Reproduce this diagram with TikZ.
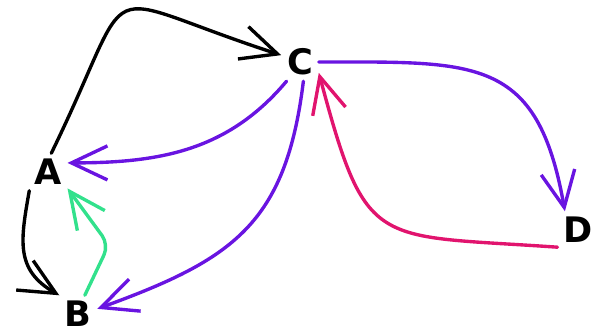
\documentclass[tikz,border=0pt]{standalone}
\usepackage{fontspec}
\setmainfont{DejaVu Sans}
\usetikzlibrary{arrows.meta}
\definecolor{purp}{RGB}{105,20,225}
\definecolor{mint}{RGB}{50,225,140}
\definecolor{rose}{RGB}{225,20,110}
\begin{document}
\begin{tikzpicture}[line width=2.4pt, line cap=round,
  letter/.style={font=\fontsize{25}{29}\selectfont\bfseries, inner sep=3pt},
  arr/.style={-{Straight Barb[length=0.9cm,width=0.85cm,line width=2.4pt]}}]
\useasboundingbox (0,0) rectangle (14.975,8.4);
\node[letter] (A) at (1.2,4.1) {A};
\node[letter] (B) at (1.95,0.55) {B};
\node[letter] (C) at (7.5,6.85) {C};
\node[letter] (D) at (14.45,2.65) {D};
\coordinate (knee) at (2.72,2.28);

\draw[arr] (A.80) to[out=64,in=162,looseness=2.1] (C.160);
\draw[arr,purp] (C.235) to[out=230,in=0] (A.25);
\draw[arr,purp] (C.280) to[out=-97,in=20,looseness=1.2] (B.15);
\draw[arr] (A.225) to[out=-100,in=150,looseness=1.2] (B.135);
\draw[arr,mint,rounded corners=8pt] (B.70) -- (knee) -- (A.-40);
\draw[arr,purp] (C.east) to[out=0,in=100,looseness=1.4] (D.125);
\draw[arr,rose] (D.220) to[out=176,in=-75,looseness=1.6] (C.-30);
\end{tikzpicture}
\end{document}
